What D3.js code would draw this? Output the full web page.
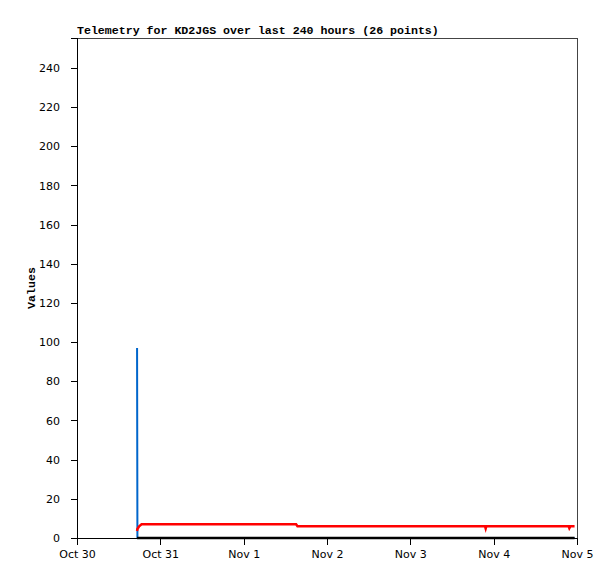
<!DOCTYPE html>
<html><head><meta charset="utf-8">
<script src="https://cdn.jsdelivr.net/npm/d3@7"></script>
<style>body{margin:0;background:#fff}svg{display:block}</style>
</head><body><div id="chart"></div>
<script>
// Hours since Oct 30 00:00 for each of the 26 telemetry points
const hours = [17.3, 17.4, 17.9, 18.6, 31.2, 38.4, 45.6, 52.8, 60.0, 63.1,
  63.5, 72.0, 81.6, 91.2, 100.8, 110.4, 117.5, 117.7, 117.9, 124.8, 132.0, 139.2, 141.6, 141.8, 142.1, 143.3];
const redValues = [3.6, 4.6, 6.0, 7, 7, 7, 7, 7, 7, 7,
  6, 6, 6, 6, 6, 6, 6, 4.8, 6, 6, 6, 6, 6, 5.0, 6, 6];
const blueValues = [97, 0, 0, 0, 0, 0, 0, 0, 0, 0,
  0, 0, 0, 0, 0, 0, 0, 0, 0, 0, 0, 0, 0, 0, 0, 0];
const blackValues = [0, 0, 0, 0, 0, 0, 0, 0, 0, 0,
  0, 0, 0, 0, 0, 0, 0, 0, 0, 0, 0, 0, 0, 0, 0, 0];
const yTicks = [0, 20, 40, 60, 80, 100, 120, 140, 160, 180, 200, 220, 240];
const xTickLabels = ["Oct 30", "Oct 31", "Nov 1", "Nov 2", "Nov 3", "Nov 4", "Nov 5"];
const titleText = "Telemetry for KD2JGS over last 240 hours (26 points)";

const W = 615, H = 579;
const m = {left: 77, right: 38, top: 38, bottom: 41};
const svg = d3.select("#chart").append("svg").attr("width", W).attr("height", H);
const start = new Date(2024, 9, 30);
const toDate = h => new Date(start.getTime() + h * 3600e3);
const x = d3.scaleTime().domain([start, toDate(144)]).range([m.left, W - m.right]);
const y = d3.scaleLinear().domain([0, 255.3]).range([H - m.bottom, m.top]);

// frame (top and right)
svg.append("path").attr("d", `M${m.left},${m.top}H${W - m.right}V${H - m.bottom}`)
  .attr("fill", "none").attr("stroke", "#444").attr("stroke-width", 1).attr("shape-rendering", "crispEdges");

const line = vals => d3.line().x((d, i) => x(toDate(hours[i]))).y((d, i) => y(vals[i]))(vals);
svg.append("path").attr("d", line(blueValues)).attr("fill", "none").attr("stroke", "#0066cc").attr("stroke-width", 2);
svg.append("path").attr("d", line(blackValues)).attr("fill", "none").attr("stroke", "#000").attr("stroke-width", 2.5);
svg.append("path").attr("d", line(redValues)).attr("fill", "none").attr("stroke", "#ff0000").attr("stroke-width", 2.5);

const font = "'DejaVu Sans', sans-serif";
const yAxis = svg.append("g").attr("transform", `translate(${m.left},0)`)
  .call(d3.axisLeft(y).tickValues(yTicks).tickSize(6).tickPadding(11));
const xTickDates = xTickLabels.map((d, i) => toDate(24 * i));
const xAxis = svg.append("g").attr("transform", `translate(0,${H - m.bottom})`)
  .call(d3.axisBottom(x).tickValues(xTickDates).tickFormat((d, i) => xTickLabels[i]).tickSize(7).tickPadding(5));
[yAxis, xAxis].forEach(a => {
  a.selectAll("text").attr("font-family", font).attr("font-size", "11px").attr("fill", "#000");
  a.selectAll("line,path").attr("stroke", "#000").attr("shape-rendering", "crispEdges");
});

svg.append("text").attr("x", m.left).attr("y", 34).text(titleText)
  .attr("font-family", "'Liberation Mono', 'DejaVu Sans Mono', monospace").attr("font-weight", "bold")
  .attr("font-size", "11.6px").attr("fill", "#000");
svg.append("text").attr("transform", `translate(35,${(m.top + H - m.bottom) / 2}) rotate(-90)`)
  .attr("text-anchor", "middle").text("Values")
  .attr("font-family", "'Liberation Mono', 'DejaVu Sans Mono', monospace").attr("font-weight", "bold")
  .attr("font-size", "11.6px").attr("fill", "#000");
</script></body></html>
